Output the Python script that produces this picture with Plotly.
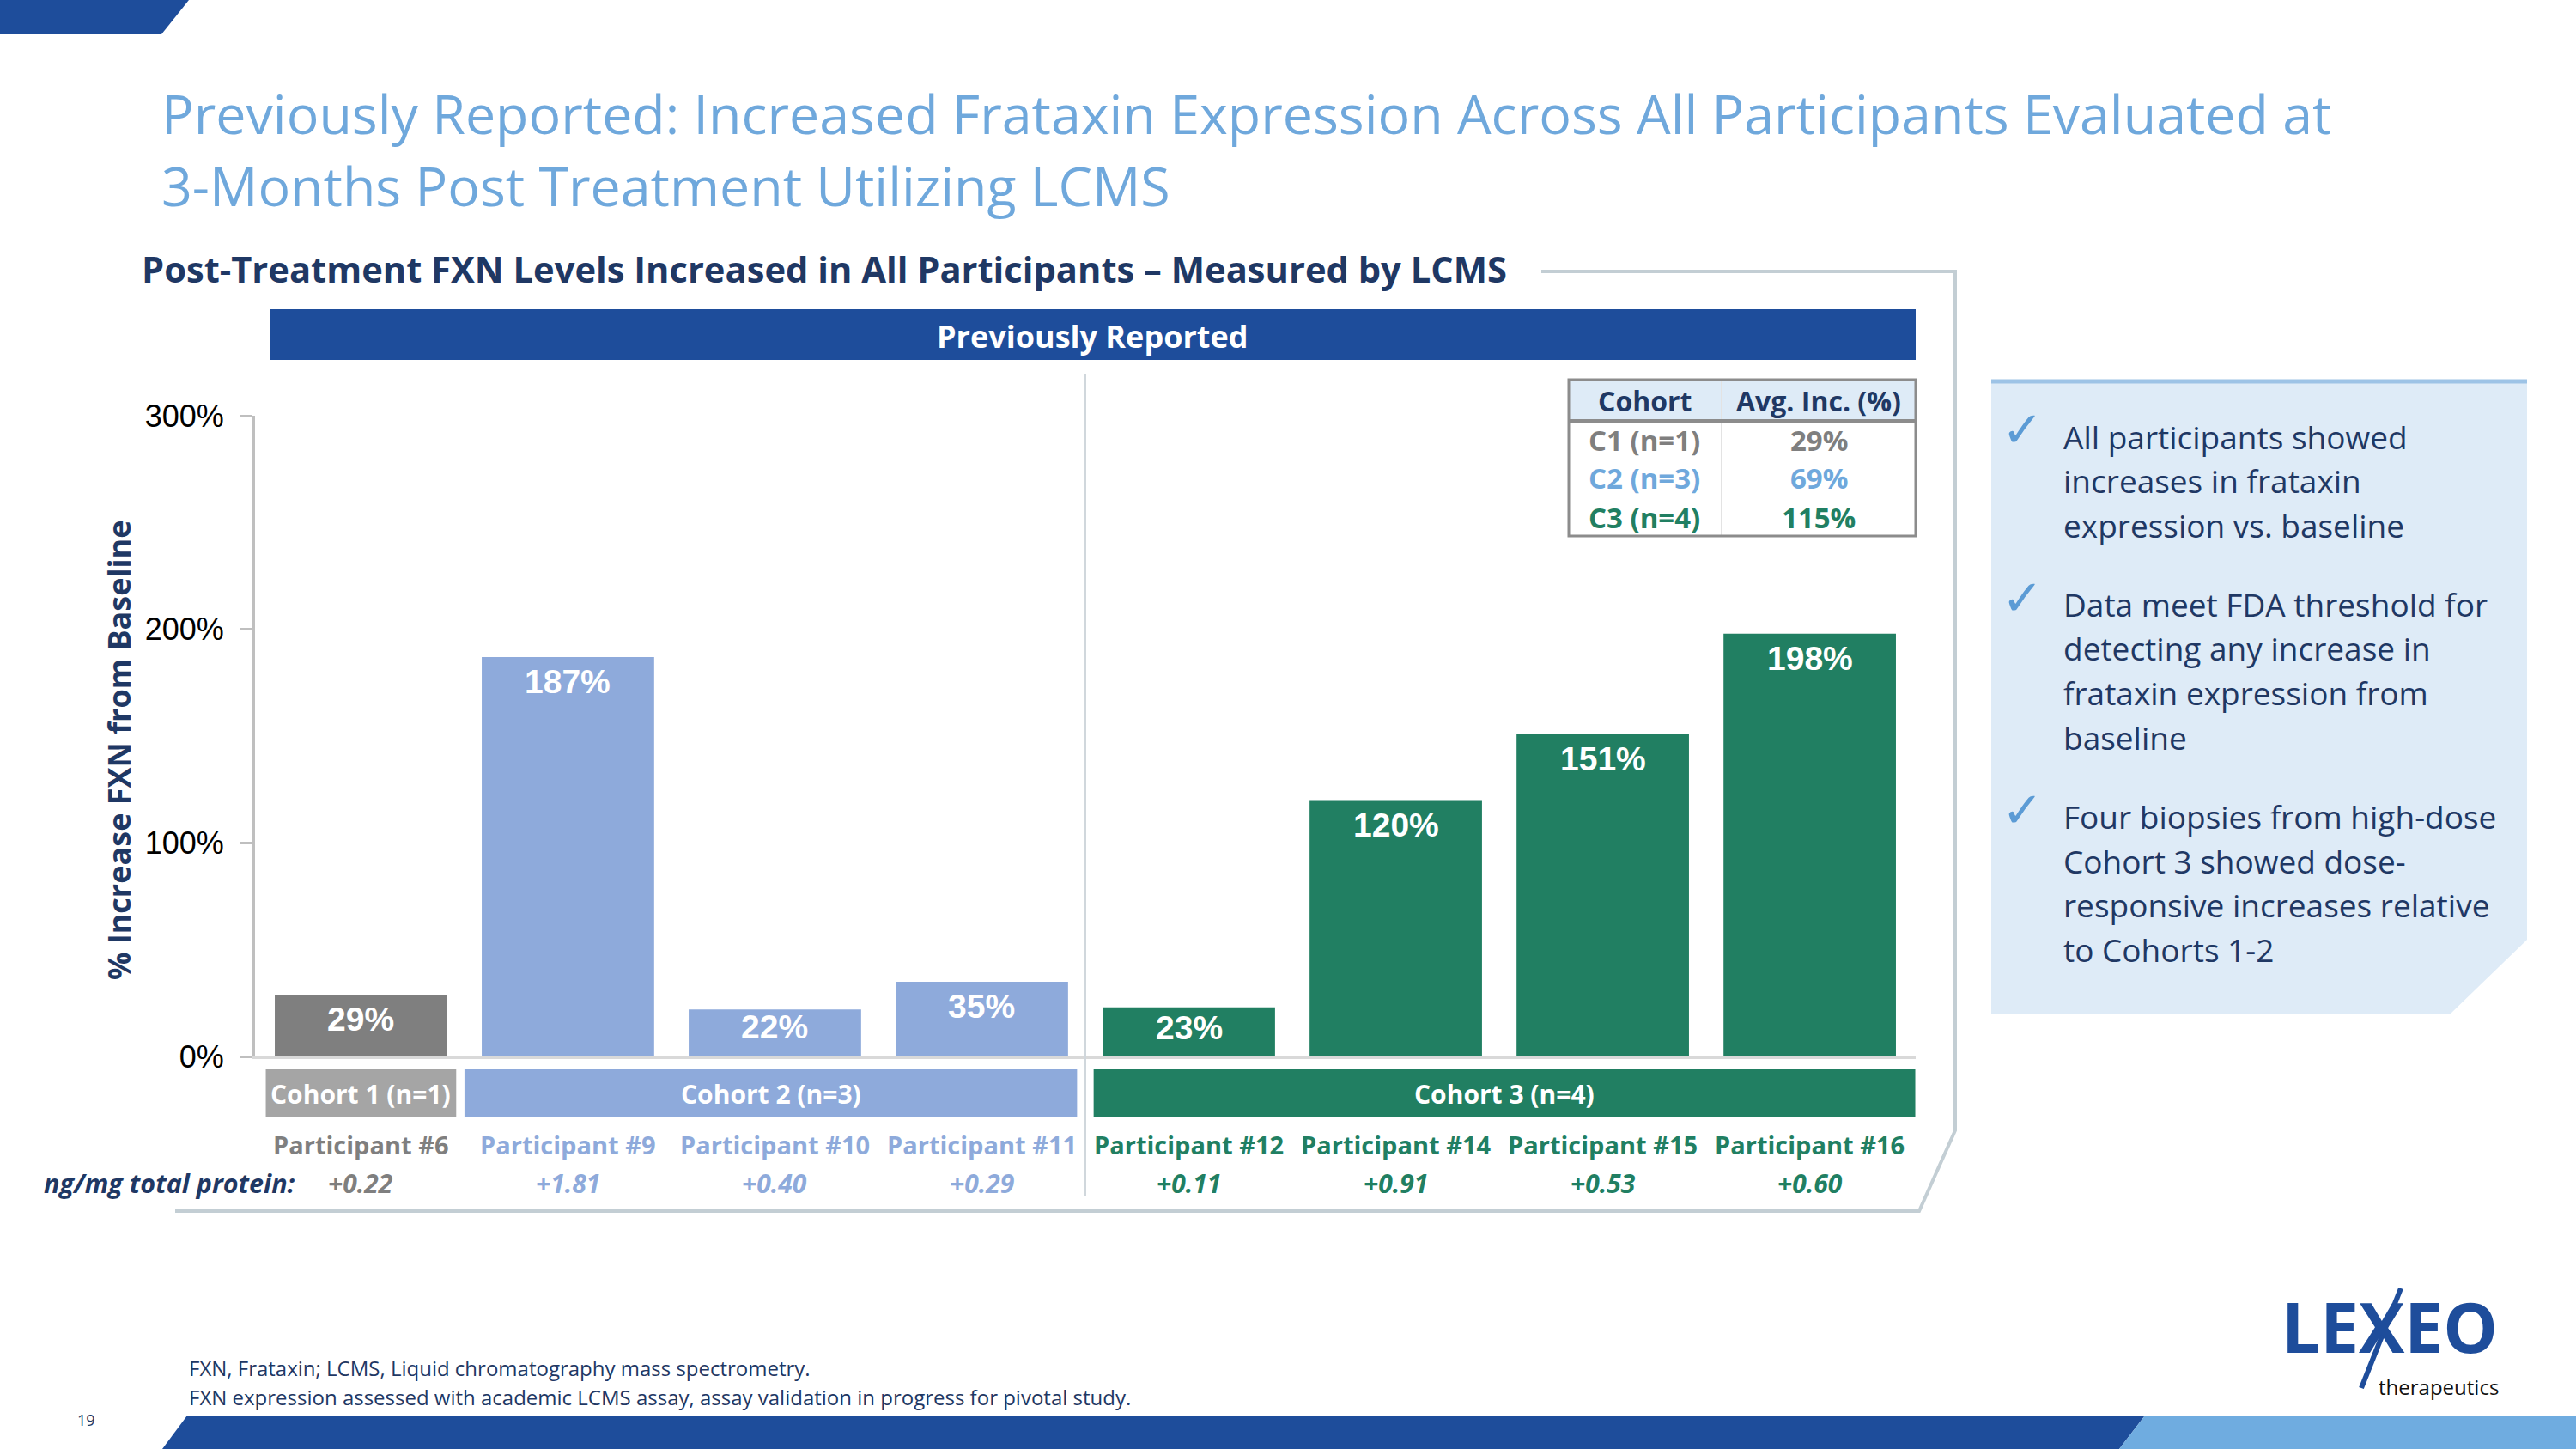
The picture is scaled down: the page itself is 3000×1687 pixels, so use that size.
import plotly.graph_objects as go

# ---------------- data ----------------
participants = ["Participant #6", "Participant #9", "Participant #10", "Participant #11",
                "Participant #12", "Participant #14", "Participant #15", "Participant #16"]
pct_increase = [29, 187, 22, 35, 23, 120, 151, 198]
ng_mg_change = ["+0.22", "+1.81", "+0.40", "+0.29", "+0.11", "+0.91", "+0.53", "+0.60"]
cohort_of = [1, 2, 2, 2, 3, 3, 3, 3]
cohort_labels = {1: "Cohort 1 (n=1)", 2: "Cohort 2 (n=3)", 3: "Cohort 3 (n=4)"}
table_cohorts = ["C1 (n=1)", "C2 (n=3)", "C3 (n=4)"]
table_avg = ["29%", "69%", "115%"]
y_ticks = [0, 100, 200, 300]
y_ticktext = ["0%", "100%", "200%", "300%"]

bullets = [
    ["All participants showed", "increases in frataxin", "expression vs. baseline"],
    ["Data meet FDA threshold for", "detecting any increase in", "frataxin expression from", "baseline"],
    ["Four biopsies from high-dose", "Cohort 3 showed dose-", "responsive increases relative", "to Cohorts 1-2"],
]

# ---------------- styles ----------------
W, H = 3000, 1687
PLOT_TOP, PLOT_BOTTOM = 484, 1230
Y_MAX = 300
bar_colors = {1: "#7F7F7F", 2: "#8EAADB", 3: "#217F62"}
box_colors = {1: "#A5A5A5", 2: "#8EAADB", 3: "#217F62"}
label_colors = {1: "#7F7F7F", 2: "#8EAADB", 3: "#217F62"}
table_colors = ["#7F7F7F", "#6FA8DC", "#217F62"]
NAVY = "#1F3864"
DARK_BLUE = "#1E4D9B"
TITLE_BLUE = "#6FA8DC"
FONT = "Open Sans"

def X(px):
    return px / W

def Y(py):
    return 1 - py / H

ann = []
shapes = []

def text(x, y, s, size, color, family=FONT, xanchor="center", yanchor="middle", xref="paper", yref="paper", **kw):
    ann.append(dict(x=x, y=y, xref=xref, yref=yref, text=s, showarrow=False,
                    xanchor=xanchor, yanchor=yanchor,
                    font=dict(family=family, size=size, color=color), **kw))

fig = go.Figure()
fig.add_trace(go.Bar(
    x=participants, y=pct_increase,
    marker=dict(color=[bar_colors[c] for c in cohort_of], line=dict(width=0)),
    width=0.833, hoverinfo="skip", showlegend=False,
))

# data labels inside bars (near the top, but kept above the baseline for short bars)
px_per_unit = (PLOT_BOTTOM - PLOT_TOP) / Y_MAX
for p, v in zip(participants, pct_increase):
    shift = min(29, v * px_per_unit - 34)
    text(p, v, f"<b>{v}%</b>", 39, "white", family="Arial", xref="x", yref="y", yshift=-shift)

# participant labels and ng/mg values
for p, c, d in zip(participants, cohort_of, ng_mg_change):
    text(p, Y(1332), f"<b>{p}</b>", 29, label_colors[c], xref="x")
    text(p, Y(1377), f"<b><i>{d}</i></b>", 30, label_colors[c], xref="x")

text(X(346), Y(1377), "<b><i>ng/mg total protein:</i></b>", 30.5, NAVY, xanchor="right")

# cohort boxes
for c in sorted(cohort_labels):
    idx = [i for i, cc in enumerate(cohort_of) if cc == c]
    x0 = idx[0] - 0.46 if c != 2 else idx[0] - 0.5
    x1 = idx[-1] + 0.46 if c != 3 else idx[-1] + 0.51
    shapes.append(dict(type="rect", xref="x", yref="paper", x0=x0, x1=x1, y0=Y(1301), y1=Y(1245),
                       fillcolor=box_colors[c], line=dict(width=0), layer="below"))
    text((x0 + x1) / 2, Y(1273), f"<b>{cohort_labels[c]}</b>", 30, "white", xref="x")

# divider between cohort 2 and 3
shapes.append(dict(type="line", xref="x", yref="paper", x0=3.5, x1=3.5, y0=Y(1393), y1=Y(436),
                   line=dict(color="#D0D7DC", width=2)))

# y axis title
text(X(138), Y(874), "<b>% Increase FXN from Baseline</b>", 36, NAVY, textangle=-90)

# header bar
shapes.append(dict(type="rect", xref="paper", yref="paper", x0=X(314), x1=X(2231), y0=Y(419), y1=Y(360),
                   fillcolor=DARK_BLUE, line=dict(width=0)))
text(X(1272), Y(391), "<b>Previously Reported</b>", 36, "white")

# frame line
shapes.append(dict(type="path", xref="paper", yref="paper",
                   path=f"M {X(1795)},{Y(316)} L {X(2277)},{Y(316)} L {X(2277)},{Y(1316)} "
                        f"L {X(2235)},{Y(1410)} L {X(204)},{Y(1410)}",
                   line=dict(color="#C3CED4", width=4)))

# table
shapes.append(dict(type="rect", xref="paper", yref="paper", x0=X(1827), x1=X(2231), y0=Y(490), y1=Y(442),
                   fillcolor="#DEEBF7", line=dict(width=0)))
shapes.append(dict(type="line", xref="paper", yref="paper", x0=X(2005), x1=X(2005), y0=Y(624), y1=Y(442),
                   line=dict(color="#E3E3E3", width=2)))
shapes.append(dict(type="line", xref="paper", yref="paper", x0=X(1827), x1=X(2231), y0=Y(490), y1=Y(490),
                   line=dict(color="#8C8C8C", width=4)))
shapes.append(dict(type="rect", xref="paper", yref="paper", x0=X(1827), x1=X(2231), y0=Y(624), y1=Y(442),
                   line=dict(color="#8C8C8C", width=3)))
text(X(1915), Y(466), "<b>Cohort</b>", 32, NAVY)
text(X(2118), Y(466), "<b>Avg. Inc. (%)</b>", 32, NAVY)
for i, (tc, ta) in enumerate(zip(table_cohorts, table_avg)):
    yy = Y(512 + 45 * i)
    text(X(1915), yy, f"<b>{tc}</b>", 33, table_colors[i])
    text(X(2118), yy, f"<b>{ta}</b>", 33, table_colors[i])

# right panel
shapes.append(dict(type="path", xref="paper", yref="paper",
                   path=f"M {X(2319)},{Y(444)} L {X(2943)},{Y(444)} L {X(2943)},{Y(1094)} "
                        f"L {X(2854)},{Y(1180)} L {X(2319)},{Y(1180)} Z",
                   fillcolor="#DEEBF7", line=dict(width=0)))
shapes.append(dict(type="line", xref="paper", yref="paper", x0=X(2319), x1=X(2943), y0=Y(444), y1=Y(444),
                   line=dict(color="#9DC3E6", width=5)))
line_y = 508
for b in bullets:
    text(X(2355), Y(line_y - 8), "✓", 58, "#5B9BD5", family="DejaVu Sans")
    for ln in b:
        text(X(2401), Y(line_y), ln, 37, NAVY, xanchor="left")
        line_y += 51.5
    line_y += 41

# titles
text(X(186), Y(132), "Previously Reported: Increased Frataxin Expression Across All Participants Evaluated at",
     62.7, TITLE_BLUE, xanchor="left")
text(X(186), Y(216), "3-Months Post Treatment Utilizing LCMS", 62.7, TITLE_BLUE, xanchor="left")
text(X(163), Y(312), "<b>Post-Treatment FXN Levels Increased in All Participants – Measured by LCMS</b>",
     41.7, NAVY, xanchor="left")

# footnotes
text(X(218), Y(1592), "FXN, Frataxin; LCMS, Liquid chromatography mass spectrometry.", 24, NAVY, xanchor="left")
text(X(218), Y(1626),
     "FXN expression assessed with academic LCMS assay, assay validation in progress for pivotal study.",
     24, NAVY, xanchor="left")
text(X(100), Y(1653), "19", 18, NAVY)

# decorative bars
shapes.append(dict(type="path", xref="paper", yref="paper",
                   path=f"M 0,1 L {X(220)},1 L {X(188)},{Y(40)} L 0,{Y(40)} Z",
                   fillcolor=DARK_BLUE, line=dict(width=0)))
shapes.append(dict(type="path", xref="paper", yref="paper",
                   path=f"M {X(218)},{Y(1648)} L {X(2498)},{Y(1648)} L {X(2468)},0 L {X(189)},0 Z",
                   fillcolor=DARK_BLUE, line=dict(width=0)))
shapes.append(dict(type="path", xref="paper", yref="paper",
                   path=f"M {X(2498)},{Y(1648)} L 1,{Y(1648)} L 1,0 L {X(2468)},0 Z",
                   fillcolor="#6FACE0", line=dict(width=0)))

# logo
text(X(2655), Y(1543), "<b>LEXEO</b>", 80, DARK_BLUE, xanchor="left")
text(X(2912), Y(1614), "therapeutics", 24, "#111111", xanchor="right")
shapes.append(dict(type="line", xref="paper", yref="paper", x0=X(2750), x1=X(2796), y0=Y(1616), y1=Y(1500),
                   line=dict(color=DARK_BLUE, width=6)))

fig.update_layout(
    width=W, height=H, margin=dict(l=0, r=0, t=0, b=0, autoexpand=False),
    paper_bgcolor="white", plot_bgcolor="white",
    annotations=ann, shapes=shapes, showlegend=False,
    xaxis=dict(domain=[X(297), X(2231)], range=[-0.512, 7.512], showticklabels=False,
               showgrid=False, zeroline=False, showline=True, linecolor="#D9D9D9", linewidth=3,
               ticks="", fixedrange=True, automargin=False),
    yaxis=dict(domain=[Y(PLOT_BOTTOM), Y(PLOT_TOP)], range=[0, Y_MAX], tickvals=y_ticks, ticktext=y_ticktext,
               showgrid=False, zeroline=False, showline=True, linecolor="#BFBFBF", linewidth=3,
               ticks="outside", ticklen=14, tickwidth=3, tickcolor="#BFBFBF",
               tickfont=dict(family="Arial", size=36, color="black"), ticklabelstandoff=12,
               fixedrange=True, automargin=False),
)

fig.write_html("out.html")
